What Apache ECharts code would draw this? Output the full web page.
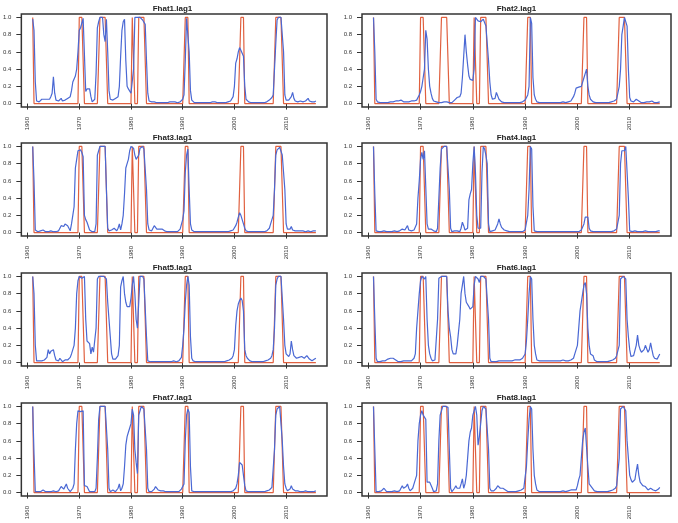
<!DOCTYPE html>
<html><head><meta charset="utf-8">
<script src="https://cdn.jsdelivr.net/npm/echarts@6/dist/echarts.min.js"></script>
<style>html,body{margin:0;padding:0;background:#fff}#c{width:678px;height:523px}</style>
</head><body><div id="c"></div>
<script>
// ---------- data (quarterly, 1961Q1 .. 2015Q4) ----------
const panelTitles = ['Fhat1.lag1','Fhat2.lag1','Fhat3.lag1','Fhat4.lag1','Fhat5.lag1','Fhat6.lag1','Fhat7.lag1','Fhat8.lag1'];
const xTicks = [1960,1970,1980,1990,2000,2010];
const yTicks = [0,0.2,0.4,0.6,0.8,1.0];
const firstYear = 1961;
const perYear = 4;

const recession = [
1,0,0,0, 0,0,0,0, 0,0,0,0, 0,0,0,0, 0,0,0,0, 0,0,0,0, 0,0,0,0, 0,0,0,0, 0,0,0,0,
1,1,1,1, 0,0,0,0, 0,0,0,0, 0,0,0,0,
1,1,1,1, 1,1,0,0,
0,0,0,0, 0,0,0,0, 0,0,0,0, 0,0,0,0,
0,1,1,0, 0,0,1,1, 1,1,1,1,
0,0,0,0, 0,0,0,0, 0,0,0,0, 0,0,0,0, 0,0,0,0, 0,0,0,0, 0,0,0,0,
0,0,1,1, 1,0,0,0,
0,0,0,0, 0,0,0,0, 0,0,0,0, 0,0,0,0, 0,0,0,0, 0,0,0,0, 0,0,0,0, 0,0,0,0, 0,0,0,0,
0,1,1,1,
0,0,0,0, 0,0,0,0, 0,0,0,0, 0,0,0,0, 0,0,0,0, 0,0,0,0,
1,1,1,1, 1,1,0,0,
0,0,0,0, 0,0,0,0, 0,0,0,0, 0,0,0,0, 0,0,0,0, 0,0,0,0
];

const fhat1 = [
.98,.85,.25,.03, .01,.02,.03,.05, .07,.05,.04,.05, .06,.05,.08,.12, .31,.12,.04,.02,
.03,.05,.06,.03, .02,.04,.05,.06, .06,.08,.15,.25, .27,.32,.40,.60, .85,.88,.90,.99,
.98,.14,.17,.15, .17,.08,.02,.03, .05,.35,.88,.95, 1,1,1,.80, .72,.98,.60,.15,
.05,.04,.04,.05, .06,.05,.08,.20, .55,.85,.95,.98, .50,.20,.17,.18, .12,.10,.40,1,
1,1,1,1, .99,.97,.95,.92, .50,.12,.03,.02, .02,.03,.02,.02, .01,.01,.01,.01,
.01,.01,.01,.01, .01,.02,.02,.01, .02,.03,.02,.01, .01,.01,.02,.03, .05,.10,.50,.99,
.97,.60,.15,.04, .02,.01,.01,.01, .01,.01,.01,.01, .01,.01,.01,.01, .01,.01,.01,.02,
.02,.02,.01,.01, .01,.01,.01,.01, .01,.01,.02,.02, .02,.03,.05,.08, .20,.47,.52,.60,
.65,.62,.60,.55, .20,.05,.03,.02, .01,.01,.01,.01, .01,.01,.01,.01, .01,.01,.02,.01,
.02,.02,.03,.04, .05,.07,.10,.12, .70,.97,1,1, 1,1,.60,.10, .04,.03,.04,.05,
.08,.13,.06,.03, .02,.02,.04,.03, .02,.02,.03,.03, .03,.06,.03,.02, .02,.01,.02,.03
];

const fhat2 = [
1,.60,.05,.02, .01,.01,.01,.01, .01,.01,.02,.01, .01,.02,.02,.02, .02,.03,.02,.03,
.03,.04,.03,.02, .02,.02,.03,.02, .02,.03,.02,.03, .03,.04,.06,.10, .14,.20,.30,.40,
.85,.75,.40,.20, .12,.06,.03,.02, .02,.01,.01,.01, .01,.01,.02,.02, .02,.01,.01,.01,
.01,.02,.04,.05, .07,.06,.08,.12, .30,.55,.80,.60, .45,.32,.28,.27, .27,.40,1,.99,
.96,.95,.95,.96, .98,1,.90,.70, .50,.25,.10,.05, .04,.06,.13,.12, .05,.03,.02,.01,
.01,.01,.01,.01, .01,.01,.01,.01, .01,.01,.01,.01, .01,.01,.02,.03, .04,.05,.10,.20,
1,.93,.30,.10, .05,.02,.01,.01, .01,.01,.01,.01, .01,.01,.01,.01, .01,.01,.01,.01,
.01,.01,.01,.01, .01,.02,.02,.01, .01,.02,.02,.03, .05,.08,.12,.18, .19,.19,.19,.20,
.20,.30,.35,.40, .20,.10,.05,.03, .02,.01,.01,.01, .01,.01,.01,.01, .01,.01,.01,.01,
.01,.02,.02,.03, .03,.04,.05,.06, .20,.40,.80,.90, 1,1,.90,.40, .07,.03,.02,.02,
.03,.05,.07,.03, .02,.01,.01,.01, .02,.02,.01,.02, .02,.03,.02,.01, .01,.01,.02,.02
];

const fhat3 = [
1,.60,.03,.01, .01,.01,.02,.01, .03,.02,.01,.01, .01,.01,.02,.01, .01,.01,.01,.01,
.02,.05,.08,.07, .07,.10,.12,.08, .05,.02,.10,.20, .30,.75,.85,.95, .97,.96,.93,.88,
.20,.15,.12,.10, .03,.01,.01,.01, .01,.10,.90,.95, 1,1,1,1, 1,.50,.05,.02,
.02,.03,.04,.05, .03,.02,.05,.10, .03,.10,.20,.45, .75,.80,.85,.95, 1,1,.98,.90,
.85,.85,.90,.98, 1,1,.97,.95, .50,.10,.03,.02, .02,.04,.08,.06, .04,.04,.04,.03,
.04,.03,.02,.01, .01,.01,.01,.01, .01,.01,.01,.01, .01,.02,.04,.06, .15,.25,.70,.90,
.97,.50,.10,.03, .01,.01,.01,.01, .01,.01,.01,.01, .01,.01,.01,.01, .01,.01,.01,.01,
.01,.01,.01,.01, .01,.01,.01,.01, .01,.01,.01,.01, .01,.02,.02,.03, .05,.08,.12,.18,
.23,.20,.18,.10, .05,.02,.01,.01, .01,.01,.01,.01, .01,.01,.01,.01, .01,.01,.01,.01,
.01,.02,.03,.05, .10,.15,.20,.50, .90,.96,.98,.99, 1,.90,.70,.50, .10,.04,.03,.04,
.07,.03,.02,.02, .02,.02,.01,.02, .02,.02,.02,.01, .02,.02,.02,.01, .02,.02,.02,.02
];

const fhat4 = [
1,.45,.02,.01, .01,.01,.01,.01, .02,.01,.01,.01, .01,.01,.01,.01, .02,.01,.01,.01,
.02,.03,.04,.03, .03,.05,.08,.03, .02,.02,.02,.03, .05,.10,.40,.60, .85,.93,.85,.95,
.95,.10,.04,.04, .04,.03,.02,.01, .01,.05,.40,.75, .97,.98,1,1, 1,1,.50,.05,
.01,.01,.02,.03, .02,.01,.01,.05, .12,.08,.03,.04, .05,.38,.45,.50, .80,1,.70,.20,
.05,.05,.05,.70, 1,.97,.90,.80, .10,.01,.01,.02, .02,.03,.05,.10, .16,.10,.06,.04,
.03,.03,.02,.01, .01,.01,.01,.01, .01,.01,.01,.01, .01,.01,.01,.01, .03,.05,.20,.50,
1,.97,.30,.02, .01,.01,.01,.01, .01,.01,.01,.01, .01,.01,.01,.01, .01,.01,.01,.01,
.01,.01,.01,.01, .01,.01,.01,.01, .01,.01,.01,.01, .01,.01,.01,.01, .01,.01,.02,.03,
.05,.10,.18,.18, .18,.05,.02,.01, .01,.01,.01,.01, .01,.01,.01,.01, .01,.01,.01,.01,
.01,.01,.01,.01, .02,.03,.04,.05, .20,.80,.95,.95, .95,1,1,.40, .02,.01,.01,.02,
.02,.01,.01,.01, .01,.02,.01,.01, .02,.01,.01,.02, .01,.02,.01,.01, .01,.01,.02,.02
];

const fhat5 = [
1,.80,.20,.02, .01,.02,.03,.02, .02,.03,.03,.06, .15,.10,.13,.15, .15,.08,.03,.01,
.02,.05,.03,.01, .02,.03,.03,.03, .03,.06,.10,.15, .20,.40,.80,.95, 1,.98,.98,.99,
1,.50,.25,.23, .22,.10,.18,.12, .13,.40,.97,1, 1,1,1,1, 1,.97,.70,.50,
.30,.10,.04,.04, .04,.05,.08,.20, .88,.95,1,.80, .70,.65,.65,.65, .75,.90,1,.80,
.50,.40,.70,1, 1,1,.97,.95, .30,.02,.01,.01, .01,.01,.01,.01, .01,.01,.01,.01,
.01,.01,.01,.01, .01,.01,.01,.01, .01,.02,.02,.01, .01,.02,.04,.06, .20,.40,.70,.90,
1,.90,.30,.05, .02,.01,.01,.01, .01,.01,.01,.01, .01,.01,.01,.01, .01,.01,.01,.01,
.01,.01,.01,.01, .01,.01,.01,.01, .01,.02,.02,.02, .03,.04,.05,.08, .15,.43,.60,.68,
.72,.75,.72,.60, .15,.08,.05,.03, .02,.01,.01,.01, .01,.01,.01,.01, .01,.01,.01,.01,
.02,.02,.03,.04, .05,.08,.15,.40, .90,.97,1,1, 1,1,.50,.20, .10,.08,.07,.10,
.25,.15,.08,.06, .05,.05,.06,.07, .07,.05,.05,.06, .08,.10,.04,.02, .02,.03,.04,.05
];

const fhat6 = [
1,.50,.05,.01, .01,.01,.02,.02, .02,.02,.03,.04, .05,.05,.04,.05, .05,.03,.02,.01,
.01,.01,.02,.02, .02,.02,.02,.02, .02,.02,.03,.05, .10,.40,.60,.80, .95,1,.98,.97,
1,.50,.20,.10, .05,.02,.02,.03, .05,.50,.98,1, 1,1,1,1, 1,.60,.40,.30,
.15,.10,.08,.10, .20,.35,.50,.80, .90,1,.80,.70, .70,.65,.62,.60, .65,.90,1,1,
.97,.93,1,1, 1,1,.97,.95, .50,.05,.01,.01, .01,.02,.01,.02, .02,.01,.02,.02,
.02,.01,.02,.02, .02,.02,.02,.02, .03,.03,.03,.03, .03,.04,.05,.07, .10,.25,.50,.80,
1,.97,.50,.20, .10,.03,.02,.02, .02,.02,.02,.02, .02,.02,.02,.02, .02,.02,.02,.02,
.02,.02,.02,.02, .02,.03,.02,.02, .02,.02,.02,.03, .04,.05,.10,.15, .20,.40,.60,.70,
.80,.90,.93,.80, .40,.20,.10,.09, .08,.03,.02,.01, .01,.01,.01,.01, .01,.01,.01,.01,
.01,.02,.02,.03, .04,.05,.08,.10, .20,.97,.98,1, 1,.97,.50,.30, .15,.07,.06,.08,
.10,.20,.32,.20, .15,.12,.10,.15, .20,.18,.12,.15, .23,.15,.08,.05, .03,.04,.06,.10
];

const fhat7 = [
1,.45,.01,.01, .01,.01,.01,.02, .03,.02,.01,.01, .01,.01,.01,.01, .02,.01,.01,.01,
.02,.04,.07,.05, .04,.06,.10,.05, .03,.01,.03,.05, .10,.50,.80,.95, .95,.94,.93,.95,
.08,.07,.07,.05, .01,.01,.01,.01, .01,.05,.40,.85, 1,1,1,1, 1,1,.50,.05,
.01,.02,.03,.03, .01,.01,.05,.10, .02,.05,.10,.30, .55,.65,.70,.75, .80,.97,.90,.50,
.35,.22,.90,.95, 1,1,.97,.95, .50,.05,.01,.01, .01,.02,.04,.07, .05,.03,.03,.02,
.02,.02,.01,.01, .01,.01,.01,.01, .01,.01,.01,.01, .01,.01,.02,.04, .06,.10,.60,.90,
.97,.93,.30,.02, .01,.01,.01,.01, .01,.01,.01,.01, .01,.01,.01,.01, .01,.01,.01,.01,
.01,.01,.01,.01, .01,.01,.01,.01, .01,.01,.01,.01, .01,.01,.02,.02, .03,.05,.10,.20,
.35,.33,.32,.20, .08,.02,.01,.01, .01,.01,.01,.01, .01,.01,.01,.01, .01,.01,.01,.01,
.01,.02,.02,.03, .04,.06,.08,.50, .90,.97,.98,1, 1,.60,.30,.10, .05,.02,.02,.04,
.08,.04,.02,.02, .01,.02,.01,.01, .02,.01,.01,.02, .01,.01,.02,.01, .01,.01,.02,.02
];

const fhat8 = [
1,.50,.01,.01, .01,.02,.02,.03, .05,.03,.01,.01, .01,.01,.01,.01, .02,.01,.01,.01,
.02,.05,.08,.05, .05,.07,.10,.05, .02,.02,.05,.10, .15,.20,.60,.80, .90,.95,.90,.88,
.85,.12,.12,.12, .12,.05,.01,.01, .02,.10,.60,.90, .95,1,1,1, 1,.99,.50,.05,
.01,.02,.05,.08, .05,.03,.05,.10, .16,.05,.10,.20, .40,.60,.70,.75, .90,.95,1,.90,
.55,.65,.80,.95, 1,1,.97,.95, .50,.05,.02,.02, .02,.03,.05,.08, .09,.05,.05,.05,
.05,.03,.02,.01, .01,.01,.01,.01, .01,.01,.02,.02, .02,.03,.04,.05, .18,.30,.60,.85,
1,.97,.50,.20, .10,.03,.02,.01, .01,.01,.01,.01, .01,.01,.01,.01, .01,.01,.01,.01,
.01,.01,.01,.01, .01,.02,.02,.01, .02,.02,.03,.03, .03,.03,.03,.03, .08,.15,.20,.40,
.60,.70,.75,.77, .30,.10,.08,.06, .05,.02,.01,.01, .01,.01,.01,.01, .01,.01,.01,.01,
.01,.02,.02,.03, .04,.05,.08,.10, .40,.97,.98,1, 1,.95,.60,.40, .20,.15,.12,.12,
.15,.25,.33,.20, .12,.10,.08,.08, .07,.05,.03,.04, .05,.04,.03,.02, .02,.02,.04,.06
];

const fhatSeries = [fhat1, fhat2, fhat3, fhat4, fhat5, fhat6, fhat7, fhat8];

// ---------- layout / style ----------
const colLeft = [18, 362];
const rowTop = [14, 143, 273, 403];
const W = 309, H = 93;
const FONT = 'Liberation Sans, Arial, Helvetica, sans-serif';
const BLUE = '#4a68d4';
const RED = '#e0603f';
const AX = '#333333';

function pairs(vals) {
  return vals.map((v, i) => [firstYear + i / perYear, v]);
}

const grids = [], xAxes = [], yAxes = [], series = [], titles = [];
for (let p = 0; p < 8; p++) {
  const c = p % 2, r = Math.floor(p / 2);
  const left = colLeft[c], top = rowTop[r];
  grids.push({left: left, top: top, width: W, height: H, show: true,
    borderColor: '#333333', borderWidth: 1.5, backgroundColor: 'transparent', containLabel: false});
  xAxes.push({type: 'value', gridIndex: p, min: 1958.8, max: 2017.9,
    axisLine: {show: false}, splitLine: {show: false},
    axisTick: {show: true, customValues: xTicks, length: 6, lineStyle: {color: AX, width: 1}},
    axisLabel: {show: true, customValues: xTicks, rotate: 90, fontSize: 6, margin: 10,
      color: AX, fontFamily: FONT, formatter: v => String(v)}});
  yAxes.push({type: 'value', gridIndex: p, min: -0.04, max: 1.04,
    axisLine: {show: false}, splitLine: {show: false},
    axisTick: {show: true, customValues: yTicks, length: 5, lineStyle: {color: AX, width: 1}},
    axisLabel: {show: true, customValues: yTicks, fontSize: 6, margin: 10,
      color: AX, fontFamily: FONT, formatter: v => v.toFixed(1)}});
  series.push({type: 'line', xAxisIndex: p, yAxisIndex: p, data: pairs(recession),
    showSymbol: false, symbol: 'none', lineStyle: {color: RED, width: 1.2}, silent: true, z: 2});
  series.push({type: 'line', xAxisIndex: p, yAxisIndex: p, data: pairs(fhatSeries[p]),
    showSymbol: false, symbol: 'none', lineStyle: {color: BLUE, width: 1.2}, silent: true, z: 3});
  titles.push({text: panelTitles[p], left: left + W / 2, top: top - 9, textAlign: 'center', padding: 0,
    textStyle: {fontSize: 8, fontWeight: 'bold', color: '#222', fontFamily: FONT}});
}

const chart = echarts.init(document.getElementById('c'), null, {renderer: 'canvas'});
chart.setOption({
  animation: false,
  backgroundColor: '#ffffff',
  title: titles,
  grid: grids,
  xAxis: xAxes,
  yAxis: yAxes,
  series: series
});
</script></body></html>
